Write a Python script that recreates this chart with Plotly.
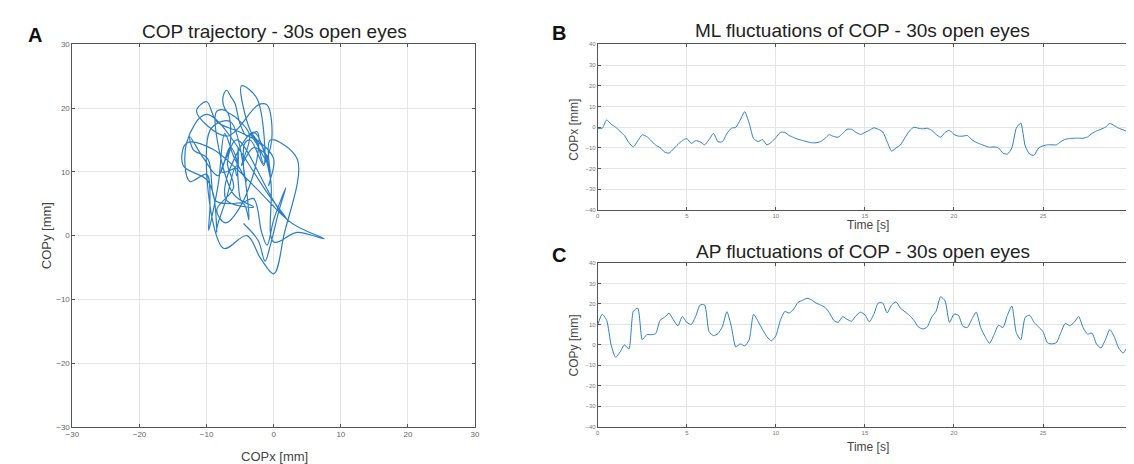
import plotly.graph_objects as go

# time grid [s]
t = [i * 0.25 for i in range(121)]

# ML (COPx) fluctuations [mm]
ml = [-0.5, -0.5, 3.5, 1.5, 0, -2, -4, -7.5, -9.5, -6.5,
      -3.7, -4.5, -6.5, -8.7, -9.8, -12, -12.5, -10.5, -8.3, -6.5,
      -5.5, -7.8, -6.5, -7, -8.5, -6, -3, -7, -7, -3,
      -0.5, 0, 3.5, 7.5, 2, -5.5, -6.9, -6, -8.5, -7.2,
      -5, -2.5, -2.5, -4, -5, -5.8, -6.4, -7, -7.5, -7.5,
      -7, -5.5, -3.6, -4.5, -4.8, -3, -1, -1, -2.5, -3.5,
      -2.5, -1.5, -0.3, -1, -2.3, -7, -11.5, -10, -8.5, -5,
      -1.8, 0, -0.5, -0.8, -0.5, -1.5, -3.5, -4.8, -2.5, -1.5,
      -3.5, -4.3, -4.3, -4, -6, -7.3, -8.2, -9, -9.7, -9.5,
      -10, -12.5, -13, -10, -0.5, 2, -9, -13, -13.5, -10,
      -9, -8.5, -8.5, -8.5, -7, -5.8, -5.5, -5.3, -5.3, -5.3,
      -4.7, -3, -1.8, -1, 0, 1.8, 0.8, -0.5, -1.3, -2.3,
      -4.5]

# AP (COPy) fluctuations [mm]
ap = [9.9, 15, 12, 0, -6, -3.5, 0, -2, 16.5, 17.9,
      2.5, 5, 5, 5.5, 12, 13.5, 15.5, 12.2, 9.4, 13.9,
      11, 10, 14, 19.5, 19.5, 6.5, 4.5, 5.5, 9, 16.2,
      9, -1, 0.5, -0.5, 2.5, 15, 11.5, 7.5, 4, 2,
      4.5, 12, 16.3, 15.6, 17.5, 20.8, 21.8, 22.8, 22, 20.5,
      19.5, 18.4, 15.8, 12, 11, 13.8, 12.5, 11.6, 14.3, 16,
      14.7, 11.3, 15, 20.5, 20.5, 15.6, 19.5, 21, 17.9, 16.2,
      14.4, 12, 8.8, 7.8, 8.8, 13.6, 16.5, 23.5, 21.5, 11,
      15, 14.5, 9.1, 8.5, 12.5, 16, 8.5, 4, 0.8, 5,
      9.6, 8.5, 14.5, 19, 6, 2.5, 13.5, 14.5, 11, 8.8,
      6.5, 1, 0.5, 1.1, 6, 10.5, 9.4, 11, 13.9, 8.5,
      5.3, 5.8, 0.5, -1.5, 2.5, 7.5, 4, -1.5, -4, -0.8,
      1.9]

xy_ticks = [-30, -20, -10, 0, 10, 20, 30]
time_ticks = [0, 5, 10, 15, 20, 25, 30]
amp_ticks = [-40, -30, -20, -10, 0, 10, 20, 30, 40]

W, H = 1134, 464
LINE = "#2a7fc6"
FONT = "Liberation Sans, Arial, sans-serif"


def dx(a, b):
    return [a / W, b / W]


def dy(top, bottom):
    return [1 - bottom / H, 1 - top / H]


fig = go.Figure()
fig.add_trace(go.Scatter(x=ml, y=ap, mode="lines",
                         line=dict(color=LINE, width=1.2, shape="spline", smoothing=1.0),
                         xaxis="x", yaxis="y", showlegend=False))
fig.add_trace(go.Scatter(x=t, y=ml, mode="lines",
                         line=dict(color=LINE, width=1, shape="spline", smoothing=0.6),
                         xaxis="x2", yaxis="y2", showlegend=False))
fig.add_trace(go.Scatter(x=t, y=ap, mode="lines",
                         line=dict(color=LINE, width=1, shape="spline", smoothing=0.6),
                         xaxis="x3", yaxis="y3", showlegend=False))

common = dict(showline=True, linecolor="#555", linewidth=1, mirror="ticks",
              showgrid=True, gridcolor="#e4e4e4", gridwidth=1, zeroline=False,
              ticks="inside", ticklen=3, tickcolor="#555", ticklabeloverflow="allow")

XR = 1129
fig.update_layout(
    width=W, height=H, margin=dict(l=0, r=0, t=0, b=0),
    paper_bgcolor="white", plot_bgcolor="white",
    font=dict(family=FONT, color="#333"),
    xaxis=dict(domain=dx(58, 465), range=[-30, 30], tickvals=xy_ticks,
               tickfont=dict(size=8, color="#666"), anchor="y", **common),
    yaxis=dict(domain=dy(33, 423), range=[-30, 30], tickvals=xy_ticks,
               tickfont=dict(size=8, color="#666"), anchor="x", **common),
    xaxis2=dict(domain=dx(589, XR), range=[0, 30], tickvals=time_ticks,
                tickfont=dict(size=6, color="#777"), anchor="y2", **common),
    yaxis2=dict(domain=dy(33, 202), range=[-40, 40], tickvals=amp_ticks,
                tickfont=dict(size=6, color="#777"), anchor="x2", **common),
    xaxis3=dict(domain=dx(589, XR), range=[0, 30], tickvals=time_ticks,
                tickfont=dict(size=6, color="#777"), anchor="y3", **common),
    yaxis3=dict(domain=dy(256, 423), range=[-40, 40], tickvals=amp_ticks,
                tickfont=dict(size=6, color="#777"), anchor="x3", **common),
)


def ann(text, x, y, size, bold=False, angle=0, color="#222"):
    fig.add_annotation(text=f"<b>{text}</b>" if bold else text, x=x / W, y=1 - y / H,
                       xref="paper", yref="paper", showarrow=False, textangle=angle,
                       font=dict(size=size, color=color, family=FONT),
                       xanchor="center", yanchor="middle")


# panel letters
ann("A", 20, 23, 20, bold=True, color="#111")
ann("B", 550, 21, 20, bold=True, color="#111")
ann("C", 550, 248, 20, bold=True, color="#111")

# titles
ann("COP trajectory - 30s open eyes", 262, 20, 19)
ann("ML fluctuations of COP - 30s open eyes", 857, 19, 19)
ann("AP fluctuations of COP - 30s open eyes", 857, 244, 19)

# axis titles
ann("COPx [mm]", 262, 453, 13, color="#444")
ann("COPy [mm]", 32, 228, 13, angle=-90, color="#444")
ann("Time [s]", 862, 217, 12, color="#444")
ann("COPx [mm]", 565, 120, 12, angle=-90, color="#444")
ann("Time [s]", 862, 444, 12, color="#444")
ann("COPy [mm]", 565, 340, 12, angle=-90, color="#444")

fig.write_html("out.html")
